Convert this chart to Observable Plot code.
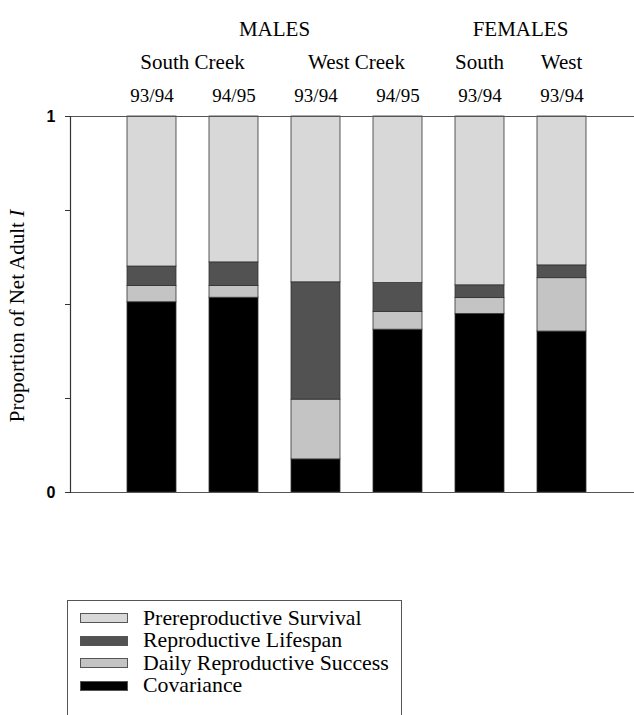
<!DOCTYPE html>
<html>
<head>
<meta charset="utf-8">
<script src="https://cdn.jsdelivr.net/npm/d3@7"></script>
<script src="https://cdn.jsdelivr.net/npm/@observablehq/plot@0.6"></script>
<style>
  body { margin: 0; background: #fff; }
  #wrap { position: relative; width: 634px; height: 715px; overflow: hidden; background: #fff; }
  #chart { position: absolute; left: 0; top: 0; }
  .legend { position: absolute; left: 67px; top: 600px; width: 335px; height: 140px;
            border: 1px solid #555; border-bottom: none; box-sizing: border-box;
            font-family: "Liberation Serif", "Times New Roman", serif; font-size: 21.8px; color: #000; padding-top: 6px; }
  .legend .row { display: flex; align-items: center; height: 22.5px; white-space: nowrap; }
  .legend .sw { width: 48px; height: 10px; margin-left: 12px; margin-right: 15px; border: 1px solid #555; box-sizing: border-box; flex: none; }
</style>
</head>
<body>
<div id="wrap">
  <div id="chart"></div>
  <div class="legend" id="legend"></div>
</div>
<script>
// ---- data ----
const sexes   = ["MALES", "MALES", "MALES", "MALES", "FEMALES", "FEMALES"];
const creeks  = ["South Creek", "South Creek", "West Creek", "West Creek", "South", "West"];
const years   = ["93/94", "94/95", "93/94", "94/95", "93/94", "93/94"];
const components = ["Covariance", "Daily Reproductive Success", "Reproductive Lifespan", "Prereproductive Survival"];
const legendOrder = ["Prereproductive Survival", "Reproductive Lifespan", "Daily Reproductive Success", "Covariance"];
const covariance      = [0.506, 0.518, 0.088, 0.433, 0.475, 0.428];
const dailySuccess    = [0.043, 0.031, 0.159, 0.047, 0.042, 0.142];
const lifespan        = [0.052, 0.063, 0.312, 0.077, 0.034, 0.034];
const prereproductive = [0.399, 0.388, 0.441, 0.443, 0.449, 0.396];
const yTicks = [0, 0.25, 0.5, 0.75, 1];
const yLabelTicks = [0, 1];
const yTitle = "Proportion of Net Adult ";
const yTitleItalic = "I";
const colors = ["#000000", "#c4c4c4", "#525252", "#d8d8d8"];

// ---- build table ----
const ids = years.map((y, i) => `${sexes[i]}|${creeks[i]}|${y}|${i}`);
const series = [covariance, dailySuccess, lifespan, prereproductive];
const rows = [];
ids.forEach((id, i) => {
  components.forEach((c, k) => rows.push({id, component: c, value: series[k][i]}));
});
const yearOf = Object.fromEntries(ids.map((id, i) => [id, years[i]]));

const serif = '"Liberation Serif", "Times New Roman", serif';
const sans = '"Liberation Sans", Arial, sans-serif';

const plot = Plot.plot({
  width: 634,
  height: 600,
  marginTop: 116,
  marginBottom: 108,
  marginLeft: 70,
  marginRight: 0,
  style: {background: "white"},
  x: {domain: ids, range: [126, 586], paddingInner: 0.404, paddingOuter: 0, axis: null},
  y: {domain: [0, 1], axis: null},
  color: {domain: components, range: colors},
  marks: [
    Plot.barY(rows, {x: "id", y: "value", fill: "component", stroke: "#333", strokeWidth: 0.8}),
    Plot.ruleY([0, 1], {stroke: "#555", strokeWidth: 1}),
    Plot.frame({anchor: "left", stroke: "#333", strokeWidth: 1.2}),
    Plot.axisY({ticks: yTicks, tickFormat: null, tickSize: 5, label: null, stroke: "#333", text: null}),
    Plot.axisY({ticks: yLabelTicks, tickSize: 0, tickPadding: 15, label: null, tickFormat: d => String(d),
                fontSize: 16, fontWeight: "bold", fontFamily: sans, fill: "#000"}),
    Plot.axisX({anchor: "top", tickSize: 0, tickPadding: 15, tickFormat: id => yearOf[id], label: null})
  ]
});
document.getElementById("chart").appendChild(plot);

const svg = d3.select(plot);
svg.selectAll('[aria-label="x-axis tick label"], [aria-label="x-axis tick label"] text')
  .style("font-size", "19px").style("font-family", serif).style("fill", "#000");

// ---- header group labels from the x scale ----
const xs = plot.scale("x");
const ys = plot.scale("y");
const center = id => xs.apply(id) + xs.bandwidth / 2;
function groupCenters(keys) {
  const m = new Map();
  keys.forEach((k, i) => { if (!m.has(k)) m.set(k, []); m.get(k).push(center(ids[i])); });
  return [...m].map(([k, v]) => ({k, c: d3.mean(v)}));
}
const creekKeys = creeks.map((c, i) => sexes[i] + "|" + c);
groupCenters(sexes).forEach(g => svg.append("text").attr("x", g.c).attr("y", 36)
  .attr("text-anchor", "middle").style("font-family", serif).style("font-size", "21px").attr("fill", "#000").text(g.k));
groupCenters(creekKeys).forEach(g => svg.append("text").attr("x", g.c).attr("y", 69)
  .attr("text-anchor", "middle").style("font-family", serif).style("font-size", "21px").attr("fill", "#000").text(g.k.split("|")[1]));

// ---- y title ----
const yc = (ys.apply(0) + ys.apply(1)) / 2 + 12;
const t = svg.append("text").attr("transform", `translate(24,${yc}) rotate(-90)`)
  .attr("text-anchor", "middle").style("font-family", serif).style("font-size", "21px").attr("fill", "#000");
t.append("tspan").text(yTitle);
t.append("tspan").style("font-style", "italic").text(yTitleItalic);

// ---- legend ----
const colorScale = plot.scale("color");
const lg = d3.select("#legend");
legendOrder.forEach(c => {
  const r = lg.append("div").attr("class", "row");
  r.append("div").attr("class", "sw").style("background", colorScale.apply(c));
  r.append("span").text(c);
});
</script>
</body>
</html>
